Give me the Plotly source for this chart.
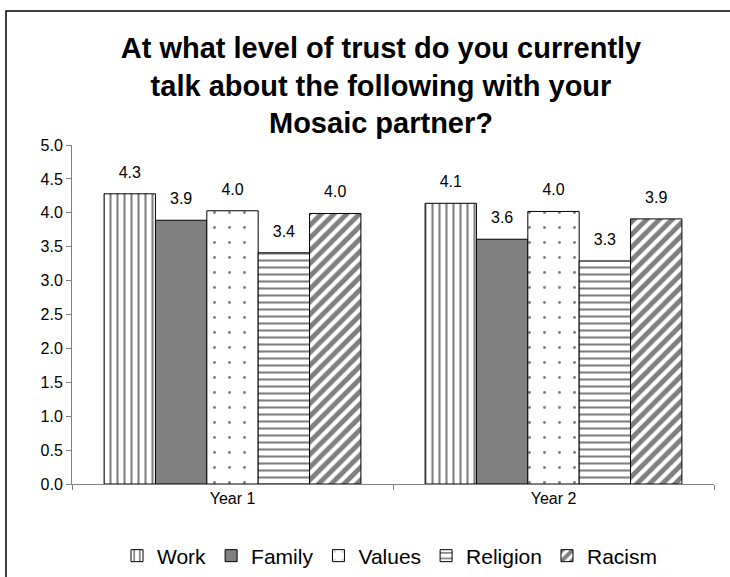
import plotly.graph_objects as go

categories = ["Year 1", "Year 2"]
series_names = ["Work", "Family", "Values", "Religion", "Racism"]
work = [4.28, 4.14]
family = [3.89, 3.61]
values_ = [4.03, 4.02]
religion = [3.41, 3.29]
racism = [3.99, 3.91]
y_ticks = [0.0, 0.5, 1.0, 1.5, 2.0, 2.5, 3.0, 3.5, 4.0, 4.5, 5.0]

series = [work, family, values_, religion, racism]
styles = [
    dict(color="white", pattern=dict(shape="|", fgcolor="black", bgcolor="white", size=7, solidity=0.3)),
    dict(color="#808080"),
    dict(color="white", pattern=dict(shape=".", fgcolor="black", bgcolor="white", size=15, solidity=0.03)),
    dict(color="white", pattern=dict(shape="-", fgcolor="black", bgcolor="white", size=7, solidity=0.3)),
    dict(color="white", pattern=dict(shape="/", fgcolor="black", bgcolor="white", size=9, solidity=0.55)),
]
FONT = "Liberation Sans, Arial"

fig = go.Figure()
for name, vals, st in zip(series_names, series, styles):
    fig.add_trace(go.Bar(
        name=name, x=categories, y=vals, offsetgroup=name,
        marker=dict(line=dict(color="black", width=1), **st),
    ))
for name, vals in zip(series_names, series):
    fig.add_trace(go.Scatter(
        x=categories, y=vals, offsetgroup=name, mode="markers+text",
        text=[f"{v:.1f}" for v in vals], textposition="top center",
        textfont=dict(size=16, color="black", family=FONT),
        marker=dict(size=18, opacity=0), showlegend=False, hoverinfo="skip",
        cliponaxis=False,
    ))

W, H = 730, 577
L, R, T, B = 72, 16, 145, 93
pw, ph = W - L - R, H - T - B

def px_x(p):
    return (p - L) / pw

def px_y(p):
    return (H - B - p) / ph

fig.update_layout(
    width=W, height=H,
    margin=dict(l=L, r=R, t=T, b=B, autoexpand=False),
    paper_bgcolor="white", plot_bgcolor="white",
    barmode="group", bargap=0.2, bargroupgap=0,
    scattermode="group", scattergap=0.2,
    font=dict(family=FONT, color="black"),
    title=dict(
        text="At what level of trust do you currently<br>talk about the following with your<br>Mosaic partner?",
        x=381 / W, xanchor="center", y=1 - 58 / H, yanchor="top",
        font=dict(size=29, family=FONT, color="black", weight="bold"),
    ),
    legend=dict(
        orientation="h", x=px_x(390), xanchor="center", y=px_y(556), yanchor="middle",
        font=dict(size=21, family=FONT),
        itemwidth=30, tracegroupgap=0,
    ),
    showlegend=True,
)
fig.update_yaxes(
    range=[0, 5], tickvals=y_ticks, ticktext=[f"{v:.1f}" for v in y_ticks],
    showgrid=False, showline=True, linecolor="#808080", linewidth=1,
    ticks="outside", ticklen=5, tickcolor="#808080",
    tickfont=dict(size=16), zeroline=False,
)
fig.update_xaxes(
    showgrid=False, showline=True, linecolor="#808080", linewidth=1,
    ticks="outside", ticklen=5, tickcolor="#808080", tickson="boundaries",
    tickfont=dict(size=16),
)
fig.add_shape(
    type="rect", xref="paper", yref="paper",
    x0=px_x(6), y0=px_y(11), x1=px_x(760), y1=px_y(620),
    line=dict(color="black", width=1.5), fillcolor="rgba(0,0,0,0)", layer="below",
)
fig.write_html(
    "out.html",
    config={"displayModeBar": False},
    post_script="document.body.style.margin='0';document.body.style.padding='0';",
)
